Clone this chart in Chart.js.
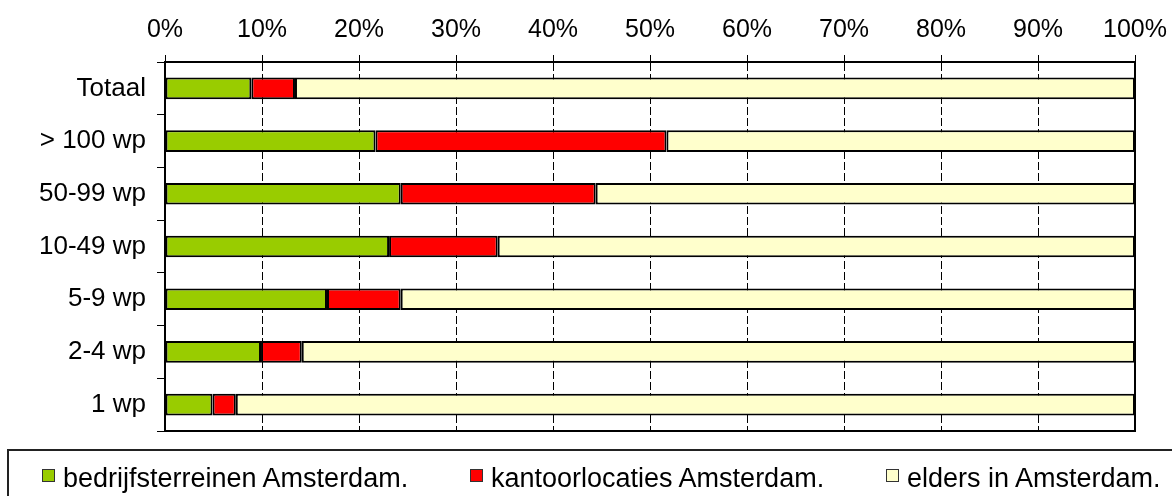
<!DOCTYPE html>
<html>
<head>
<meta charset="utf-8">
<script src="https://cdn.jsdelivr.net/npm/chart.js@4/dist/chart.umd.min.js"></script>
<style>
  html, body { margin: 0; padding: 0; background: #fff; overflow: hidden; }
  #wrap { position: relative; width: 1172px; height: 496px; }
  #legend {
    position: absolute; left: 7px; top: 449px; width: 1180px; height: 70px;
    border: 2px solid #222; box-sizing: border-box;
    font-family: "Liberation Sans", Arial, sans-serif; font-size: 27px; color: #000;
  }
  .item { position: absolute; top: 14px; white-space: nowrap; line-height: 26px; }
  .swatch {
    display: inline-block; width: 11px; height: 11px; border: 1.5px solid #333;
    margin-right: 8px; vertical-align: 5px;
  }
</style>
</head>
<body>
<div id="wrap">
  <canvas id="chart" width="1172" height="496"></canvas>
  <div id="legend"></div>
</div>
<script>
/* =====================
   Data
   ===================== */
const categories = ['Totaal', '> 100 wp', '50-99 wp', '10-49 wp', '5-9 wp', '2-4 wp', '1 wp'];
const seriesNames = ['bedrijfsterreinen Amsterdam.', 'kantoorlocaties Amsterdam.', 'elders in Amsterdam.'];
const bedrijfsterreinen = [8.9, 21.7, 24.3, 23.1, 16.7, 9.9, 4.9];
const kantoorlocaties = [4.5, 30.0, 20.1, 11.2, 7.6, 4.2, 2.4];
const elders = [86.6, 48.3, 55.6, 65.7, 75.7, 85.9, 92.7];
const xTicks = [0, 10, 20, 30, 40, 50, 60, 70, 80, 90, 100];

const colors = ['#99CC00', '#FF0000', '#FFFFCC'];
const legendLeft = [33, 461, 877];
const FONT = "'Liberation Sans', Arial, sans-serif";

// Plot area frame (right + bottom edges too)
const frame = {
  id: 'frame',
  afterDatasetsDraw(chart) {
    const { ctx, chartArea: a } = chart;
    ctx.save();
    ctx.strokeStyle = '#000';
    ctx.lineWidth = 2;
    ctx.strokeRect(a.left, a.top, a.right - a.left, a.bottom - a.top);
    ctx.restore();
  }
};

const values = [bedrijfsterreinen, kantoorlocaties, elders];

new Chart(document.getElementById('chart'), {
  type: 'bar',
  data: {
    labels: categories,
    datasets: seriesNames.map((name, i) => ({
      label: name,
      data: values[i],
      backgroundColor: colors[i],
      borderColor: '#000',
      borderWidth: 2,
      borderSkipped: false,
      barPercentage: 0.41,
      categoryPercentage: 1,
    })),
  },
  options: {
    indexAxis: 'y',
    responsive: false,
    animation: false,
    devicePixelRatio: 1,
    layout: { padding: { left: 0, top: 0, right: 37, bottom: 65 } },
    plugins: {
      legend: { display: false },
      tooltip: { enabled: false },
    },
    scales: {
      x: {
        position: 'top',
        stacked: true,
        min: 0,
        max: 100,
        afterBuildTicks: (scale) => { scale.ticks = xTicks.map(v => ({ value: v })); },
        afterFit: (scale) => {
          scale.height = 62;
          scale.paddingLeft = 0;
          scale.paddingRight = 0;
        },
        ticks: {
          color: '#000',
          padding: 10,
          font: { family: FONT, size: 25 },
          callback: (v) => v + '%',
        },
        grid: { color: '#000', lineWidth: 1, tickLength: 7, tickBorderDash: [] },
        border: { display: true, color: '#000', width: 2, dash: [8, 3] },
      },
      y: {
        stacked: true,
        afterFit: (scale) => { scale.width = 165; },
        ticks: {
          color: '#000',
          padding: 11,
          font: { family: FONT, size: 26 },
        },
        grid: { drawOnChartArea: false, offset: true, color: '#000', tickLength: 8 },
        border: { display: true, color: '#000', width: 2 },
      },
    },
  },
  plugins: [frame],
});

// Legend
const legendEl = document.getElementById('legend');
legendEl.innerHTML = seriesNames.map((name, i) =>
  `<span class="item" style="left:${legendLeft[i]}px"><span class="swatch" style="background:${colors[i]}"></span>${name}</span>`
).join('');
</script>
</body>
</html>
